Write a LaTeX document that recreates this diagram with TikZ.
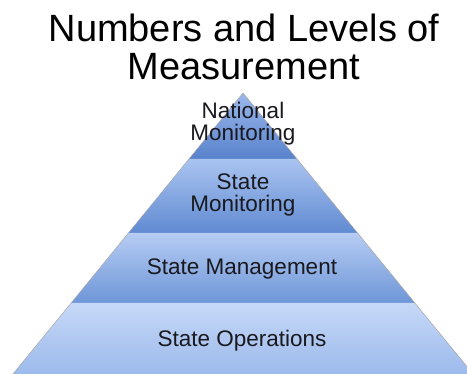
\documentclass[tikz,border=0pt]{standalone}
\usepackage{fontspec}
\setmainfont{Liberation Sans}

% band colours, light at the top of each layer and darker below
\definecolor{natTop}{RGB}{156,184,236}
\definecolor{natBot}{RGB}{88,130,204}
\definecolor{monTop}{RGB}{170,196,240}
\definecolor{monBot}{RGB}{96,138,210}
\definecolor{mgtTop}{RGB}{182,204,243}
\definecolor{mgtBot}{RGB}{110,150,216}
\definecolor{opsTop}{RGB}{198,216,247}
\definecolor{opsBot}{RGB}{156,186,236}
\definecolor{labelText}{RGB}{25,25,30}

\tikzset{
  level/.style={text=labelText, inner sep=0pt, align=center,
    font=\fontsize{22.5}{22}\selectfont},
  edge/.style={draw=gray!70, line width=0.5pt}
}

\begin{document}
\begin{tikzpicture}[x=1pt, y=-1pt]
\useasboundingbox (0,0) rectangle (467,374);

% apex and the left/right corners of every layer boundary
\coordinate (apex) at (243,93);
\foreach \n/\y/\w in {a/159/54, b/233/114.5, c/303/171.8, d/374/230} {
  \coordinate (\n L) at (243-\w,\y);
  \coordinate (\n R) at (243+\w,\y);
}

% the four layers
\shade[top color=natTop, bottom color=natBot] (apex) -- (aR) -- (aL) -- cycle;
\shade[top color=monTop, bottom color=monBot] (aL) -- (aR) -- (bR) -- (bL) -- cycle;
\shade[top color=mgtTop, bottom color=mgtBot] (bL) -- (bR) -- (cR) -- (cL) -- cycle;
\shade[top color=opsTop, bottom color=opsBot] (cL) -- (cR) -- (dR) -- (dL) -- cycle;
\draw[edge] (dL) -- (apex) -- (dR);

% title
\node[anchor=north, inner sep=0pt, align=center,
      font=\fontsize{38}{38}\selectfont] (title) at (244,14)
  {Numbers and Levels of\\Measurement};

% layer labels
\node[level, anchor=north] (national) at (243,101.5) {National\\Monitoring};
\node[level, anchor=north] (statemon) at (243,173.5) {State\\Monitoring};
\node[level, anchor=base] (statemgt) at (242,275) {State Management};
\node[level, anchor=base] (stateops) at (242,347) {State Operations};
\end{tikzpicture}
\end{document}
